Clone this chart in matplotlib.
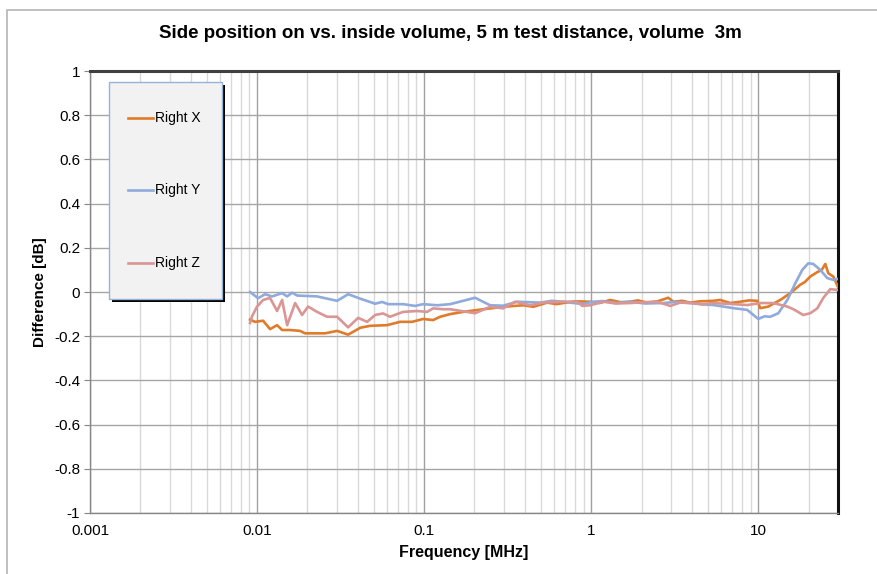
import matplotlib.pyplot as plt
from matplotlib.patches import Rectangle
from matplotlib.lines import Line2D
from matplotlib.ticker import FixedLocator, NullFormatter
import numpy as np

plt.rcParams['font.family'] = ['Liberation Sans', 'DejaVu Sans']

# Right X
fx = [0.00908, 0.00973, 0.01087, 0.01196, 0.01318, 0.01412, 0.01577, 0.01808, 0.01937,
      0.02553, 0.03013, 0.03508, 0.0414, 0.0475, 0.060, 0.0718, 0.0847, 0.0986, 0.1132,
      0.1247, 0.1432, 0.1714, 0.2255, 0.2972, 0.3917, 0.4498, 0.5458, 0.62, 0.6798, 0.80,
      0.9863, 1.12, 1.30, 1.5, 1.712, 1.9, 2.165, 2.5, 2.893, 3.098, 3.5, 3.917, 4.5,
      5.383, 5.92, 6.8, 7.80, 8.8, 9.86, 10.28, 11.48, 12.5, 13.55, 15.56, 17.84, 19.0,
      20.48, 22.55, 24.0, 25.18, 26.24, 28.12, 30.0]
yx = [-0.125, -0.135, -0.13, -0.168, -0.15, -0.172, -0.172, -0.176, -0.187,
      -0.187, -0.176, -0.193, -0.162, -0.153, -0.15, -0.135, -0.135, -0.122, -0.127,
      -0.112, -0.10, -0.09, -0.078, -0.067, -0.06, -0.067, -0.048, -0.055, -0.05, -0.042,
      -0.044, -0.05, -0.036, -0.046, -0.044, -0.038, -0.048, -0.042, -0.026, -0.044, -0.04, -0.048, -0.042,
      -0.04, -0.036, -0.05, -0.044, -0.038, -0.04, -0.073, -0.066, -0.05, -0.036, -0.005, 0.033, 0.045,
      0.07, 0.09, 0.10, 0.127, 0.085, 0.07, 0.023]

# Right Y
fy = [0.00908, 0.01014, 0.01117, 0.0123, 0.01412, 0.01513, 0.01622, 0.01738, 0.02287,
      0.03013, 0.03508, 0.0414, 0.0509, 0.0561, 0.0608, 0.0748, 0.0883, 0.0986, 0.1197,
      0.1432, 0.2018, 0.2484, 0.2972, 0.3606, 0.4955, 0.58, 0.6798, 0.8954, 1.0, 1.180,
      1.4, 1.712, 2.1, 2.70, 3.2, 3.917, 4.6, 5.383, 6.2, 7.08, 8.59, 10.0, 10.9, 11.80,
      13.18, 14.93, 16.67, 18.34, 19.92, 21.33, 23.50, 25.88, 28.12, 30.0]
yy = [0.0, -0.028, -0.01, -0.02, -0.005, -0.02, -0.003, -0.016, -0.02,
      -0.04, -0.01, -0.03, -0.053, -0.045, -0.055, -0.055, -0.063, -0.055, -0.06,
      -0.055, -0.026, -0.06, -0.062, -0.044, -0.048, -0.04, -0.044, -0.055, -0.045, -0.041,
      -0.05, -0.044, -0.052, -0.05, -0.045, -0.05, -0.056, -0.059, -0.066, -0.073, -0.081, -0.122, -0.11, -0.112,
      -0.096, -0.036, 0.04, 0.10, 0.13, 0.127, 0.10, 0.063, 0.055, 0.059]

# Right Z
fz = [0.00908, 0.00933, 0.0100, 0.01087, 0.01196, 0.01318, 0.01412, 0.01513, 0.0169,
      0.01859, 0.0202, 0.02287, 0.02625, 0.03013, 0.03508, 0.04027, 0.0456, 0.0509,
      0.0568, 0.0625, 0.0748, 0.0908, 0.1042, 0.1132, 0.130, 0.1432, 0.2018, 0.2484,
      0.2972, 0.3508, 0.4315, 0.5164, 0.6798, 0.8247, 0.8836, 0.9863, 1.180, 1.4, 1.712,
      2.1, 2.485, 2.974, 3.4, 3.917, 4.6, 5.383, 6.8, 8.59, 10.28, 12.30, 14.93, 16.22,
      18.59, 20.48, 22.55, 24.49, 26.98, 30.0]
yz = [-0.14, -0.11, -0.066, -0.036, -0.027, -0.086, -0.036, -0.15, -0.05,
      -0.104, -0.066, -0.09, -0.112, -0.112, -0.16, -0.117, -0.135, -0.104,
      -0.097, -0.112, -0.09, -0.086, -0.09, -0.074, -0.078, -0.078, -0.096, -0.067,
      -0.074, -0.044, -0.06, -0.048, -0.044, -0.044, -0.063, -0.06, -0.044, -0.052, -0.05,
      -0.046, -0.044, -0.063, -0.048, -0.05, -0.055, -0.05, -0.054, -0.059, -0.05, -0.05, -0.066, -0.078,
      -0.104, -0.096, -0.074, -0.027, 0.013, 0.009]

names = ['Right X', 'Right Y', 'Right Z']
colors = ['#E07B2A', '#8FAADC', '#D99694']
series = [(fx, yx), (fy, yy), (fz, yz)]

fig = plt.figure(figsize=(8.77, 5.74), dpi=100)
ax = fig.add_axes([90 / 877, 61 / 574, 748 / 877, 442 / 574])

# outer chart border
fig.patches.append(Rectangle((7 / 877, -0.1), 1.2, 1.1 - 10 / 574,
                             transform=fig.transFigure, fill=False,
                             edgecolor='#b4b4b4', lw=1.2))

for (f, v), c in zip(series, colors):
    ax.plot(f, v, color=c, lw=1.9, solid_joinstyle='round', zorder=3)

ax.set_xscale('log')
ax.set_xlim(0.001, 30)
ax.set_ylim(-1, 1)
ax.set_yticks(np.arange(-1, 1.01, 0.2))
ax.set_yticklabels(['-1', '-0.8', '-0.6', '-0.4', '-0.2', '0', '0.2', '0.4', '0.6', '0.8', '1'])
ax.set_xticks([0.001, 0.01, 0.1, 1, 10])
ax.set_xticklabels(['0.001', '0.01', '0.1', '1', '10'])
minors = [m * 10.0 ** e for e in range(-3, 2) for m in range(2, 10) if m * 10.0 ** e < 30]
ax.xaxis.set_minor_locator(FixedLocator(minors))
ax.xaxis.set_minor_formatter(NullFormatter())

ax.grid(which='major', axis='y', color='#a6a6a6', lw=1)
ax.grid(which='major', axis='x', color='#a0a0a0', lw=1)
ax.grid(which='minor', axis='x', color='#d9d9d9', lw=1)
ax.set_axisbelow(True)

ax.tick_params(axis='y', which='major', length=4, color='#868686', labelsize=11, pad=3)
ax.tick_params(axis='x', which='both', length=0, labelsize=11, pad=8)

for s in ['left', 'bottom']:
    ax.spines[s].set_color('#868686')
    ax.spines[s].set_linewidth(1)
ax.spines['top'].set_color('#404040')
ax.spines['top'].set_linewidth(2.2)
ax.spines['right'].set_color('#111111')
ax.spines['right'].set_linewidth(2.2)

ax.set_xlabel('Frequency [MHz]', fontsize=11.5, fontweight='bold', labelpad=5)
ax.set_ylabel('Difference [dB]', fontsize=11, fontweight='bold', labelpad=5)
fig.text(450 / 877, 1 - 33 / 574,
         'Side position on vs. inside volume, 5 m test distance, volume  3m',
         ha='center', va='center', fontsize=13.5, fontweight='bold')

# legend box drawn by hand (Excel style with shadow)
px, py = 1 / 748, 1 / 442
lx0, lx1 = 19 * px, 132 * px
ly0, ly1 = (513 - 299) * py, (513 - 82) * py
ax.add_patch(Rectangle((lx0 + 3 * px, ly0 - 3 * py), lx1 - lx0, ly1 - ly0,
                       transform=ax.transAxes, facecolor='black', edgecolor='none', zorder=5))
ax.add_patch(Rectangle((lx0, ly0), lx1 - lx0, ly1 - ly0, transform=ax.transAxes,
                       facecolor='#f2f2f2', edgecolor='#95b3d7', lw=1, zorder=6))
rows = [513 - 118, 513 - 190, 513 - 263]
for name, c, r in zip(names, colors, rows):
    ax.add_line(Line2D([38 * px, 63 * px], [r * py, r * py], transform=ax.transAxes,
                       color=c, lw=1.9, zorder=7))
    ax.text(65 * px, r * py, name, transform=ax.transAxes, fontsize=10,
            va='center', ha='left', zorder=7)

fig.savefig('out.png', dpi=100)
